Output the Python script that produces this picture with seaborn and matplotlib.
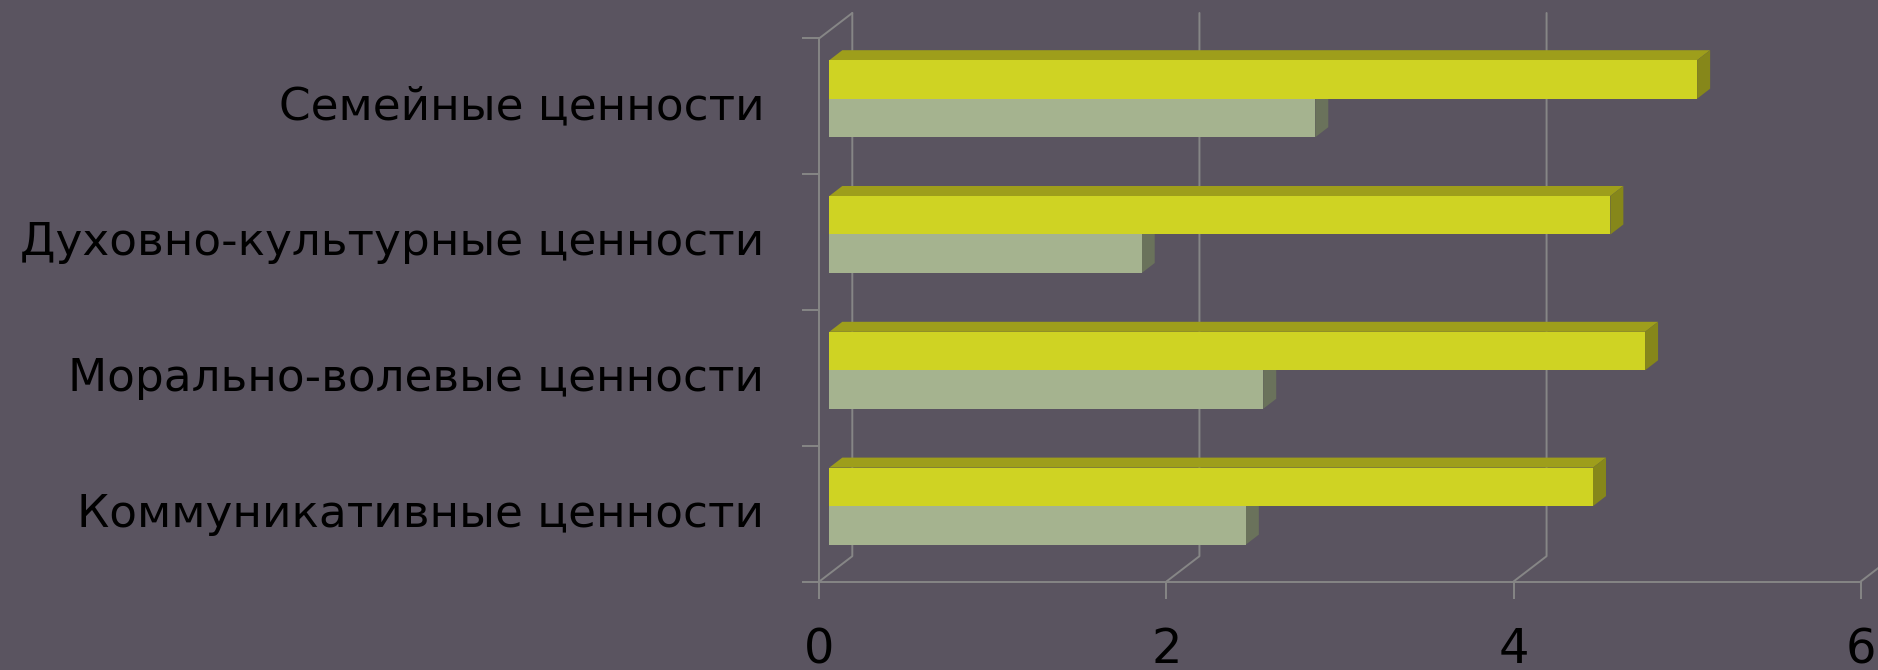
import matplotlib
matplotlib.use("Agg")
import matplotlib.pyplot as plt
import pandas as pd
import seaborn as sns
from matplotlib.lines import Line2D
from matplotlib.patches import Polygon
from matplotlib.transforms import Affine2D, IdentityTransform

categories = ["Семейные ценности", "Духовно-культурные ценности",
              "Морально-волевые ценности", "Коммуникативные ценности"]
series_a = [5.0, 4.5, 4.7, 4.4]
series_b = [2.8, 1.8, 2.5, 2.4]
x_ticks = [0, 2, 4, 6]

BG = "#5A5460"
LINE = "#868686"
YELLOW, YELLOW_TOP, YELLOW_SIDE = "#CFD323", "#9E9E1B", "#86871A"
SAGE, SAGE_TOP, SAGE_SIDE = "#A5B38F", "#7E8A6C", "#6A725B"

W, H = 1878, 670
sns.set_style("ticks")
plt.rcParams["font.family"] = ["DejaVu Sans"]

fig = plt.figure(figsize=(W / 100, H / 100), dpi=100, facecolor=BG)
ax = fig.add_axes([819.3 / W, (H - 581.5) / H, (1860.7 - 819.3) / W, (581.5 - 38.3) / H], facecolor="none")

df = pd.DataFrame({
    "cat": categories * 2,
    "value": series_a + series_b,
    "series": ["A"] * 4 + ["B"] * 4,
})
sns.barplot(data=df, y="cat", x="value", hue="series", order=categories, hue_order=["A", "B"],
            palette={"A": YELLOW, "B": SAGE}, width=0.567, saturation=1, legend=False, ax=ax,
            linewidth=0, errorbar=None)
ax.set_xlim(0, 6)
ax.set_ylim(3.5, -0.5)
ax.set_xlabel("")
ax.set_ylabel("")

LW = 1.4
for s in ("top", "right"):
    ax.spines[s].set_visible(False)
for s in ("left", "bottom"):
    ax.spines[s].set_color(LINE)
    ax.spines[s].set_linewidth(LW)

n = len(categories)
ax.set_xticks(x_ticks, [str(t) for t in x_ticks])
ax.set_yticks([i - 0.5 for i in range(n + 1)], [""] * (n + 1))
ax.set_yticks(range(n), categories, minor=True)
ax.tick_params(which="major", length=12.2, width=LW, color=LINE)
ax.tick_params(axis="x", which="major", labelsize=34.5, labelcolor="black", pad=20)
ax.tick_params(axis="y", which="minor", length=0, pad=39.6, labelsize=32.7, labelcolor="black")
for lab in ax.get_yticklabels(minor=True):
    lab.set_transform(lab.get_transform() + Affine2D().translate(0, 4))

# depth of the pseudo-3D frame and of the bars, in pixels
WALL = (33, 25.3)
BAR_SHIFT = (10, 7.5)
BAR_DEPTH = (13, 10)
idt = IdentityTransform()

# back-wall grid lines and floor / top diagonals
to_px = ax.transData.transform
for t in x_ticks:
    x0, y0 = to_px((t, 3.5))
    x1, y1 = to_px((t, -0.5))
    xs = [x0, x0 + WALL[0], x1 + WALL[0]]
    ys = [y0, y0 + WALL[1], y1 + WALL[1]]
    ax.add_line(Line2D(xs, ys, transform=idt, color=LINE, lw=LW, zorder=1, clip_on=False))
x0, y0 = to_px((0, -0.5))
ax.add_line(Line2D([x0, x0 + WALL[0]], [y0, y0 + WALL[1]], transform=idt, color=LINE, lw=LW,
                   zorder=1, clip_on=False))

# extrude each bar
styles = [(YELLOW_TOP, YELLOW_SIDE, 3), (SAGE_TOP, SAGE_SIDE, 2)]
shift = Affine2D().translate(*BAR_SHIFT)
for container, (top_c, side_c, z) in zip(ax.containers, styles):
    for bar in container:
        bar.set_transform(ax.transData + shift)
        bar.set_zorder(z + 0.1)
        bar.set_clip_on(False)
        (xa, ya), (xb, yb) = to_px((bar.get_x(), bar.get_y())), to_px((bar.get_x() + bar.get_width(),
                                                                      bar.get_y() + bar.get_height()))
        xa += BAR_SHIFT[0]; xb += BAR_SHIFT[0]
        ya += BAR_SHIFT[1]; yb += BAR_SHIFT[1]
        ytop, ybot = max(ya, yb), min(ya, yb)
        dx, dy = BAR_DEPTH
        ax.add_patch(Polygon([(xa, ytop), (xb, ytop), (xb + dx, ytop + dy), (xa + dx, ytop + dy)],
                             transform=idt, facecolor=top_c, edgecolor="none", zorder=z, clip_on=False))
        ax.add_patch(Polygon([(xb, ytop), (xb, ybot), (xb + dx, ybot + dy), (xb + dx, ytop + dy)],
                             transform=idt, facecolor=side_c, edgecolor="none", zorder=z, clip_on=False))

fig.savefig("out.png", dpi=100, facecolor=BG)
